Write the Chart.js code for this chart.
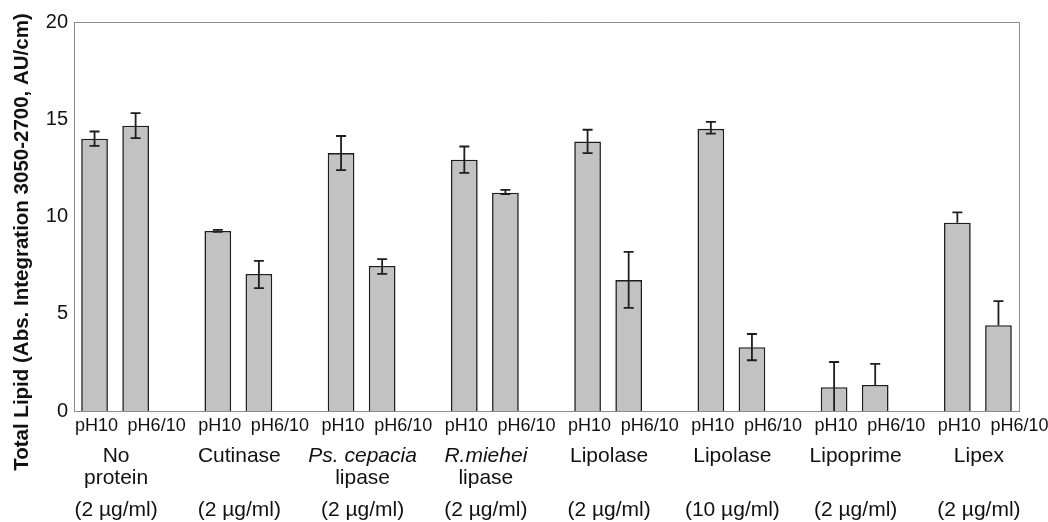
<!DOCTYPE html>
<html>
<head>
<meta charset="utf-8">
<script src="https://cdn.jsdelivr.net/npm/chart.js@4/dist/chart.umd.min.js"></script>
<style>
  html, body { margin: 0; padding: 0; background: #ffffff; }
  #wrap { width: 1048px; height: 522px; position: relative; }
</style>
</head>
<body>
<div id="wrap"><canvas id="c" width="1048" height="522"></canvas></div>
<script>
// ---- data ----
const groupLine1 = ["No", "Cutinase", "Ps. cepacia", "R.miehei", "Lipolase", "Lipolase", "Lipoprime", "Lipex"];
const groupLine2 = ["protein", "", "lipase", "lipase", "", "", "", ""];
const groupItalic = [false, false, true, true, false, false, false, false];
const doses = ["(2 µg/ml)", "(2 µg/ml)", "(2 µg/ml)", "(2 µg/ml)", "(2 µg/ml)", "(10 µg/ml)", "(2 µg/ml)", "(2 µg/ml)"];
const conditions = ["pH10", "pH6/10"];

const valuesPH10   = [14.0, 9.26, 13.26, 12.92, 13.86, 14.51, 1.22, 9.68];
const valuesPH6_10 = [14.67, 7.05, 7.46, 11.22, 6.73, 3.28, 1.34, 4.41];

const errPlusPH10    = [0.37, 0.05, 0.88, 0.68, 0.60, 0.35, 1.30, 0.53];
const errMinusPH10   = [0.37, 0.05, 0.88, 0.68, 0.60, 0.25, 1.22, 0];
const errPlusPH6_10  = [0.65, 0.67, 0.35, 0.15, 1.45, 0.68, 1.08, 1.24];
const errMinusPH6_10 = [0.64, 0.73, 0.41, 0.07, 1.43, 0.67, 0, 0];

const yTicks = [0, 5, 10, 15, 20];
const yTitle = "Total Lipid (Abs. Integration 3050-2700, AU/cm)";

// ---- build category table (two bars + spacer per group) ----
const labels = [], values = [], errP = [], errM = [], kind = [], groupOf = [];
for (let g = 0; g < groupLine1.length; g++) {
  labels.push(conditions[0]); values.push(valuesPH10[g]); errP.push(errPlusPH10[g]); errM.push(errMinusPH10[g]); kind.push(0); groupOf.push(g);
  labels.push(conditions[1]); values.push(valuesPH6_10[g]); errP.push(errPlusPH6_10[g]); errM.push(errMinusPH6_10[g]); kind.push(1); groupOf.push(g);
  if (g < groupLine1.length - 1) {
    labels.push(""); values.push(null); errP.push(null); errM.push(null); kind.push(-1); groupOf.push(g);
  }
}

const FONT = "'Liberation Sans', Arial, Helvetica, sans-serif";
const TEXT = "#111111";
const AXIS = "#8c8c8c";

const decorPlugin = {
  id: 'decor',
  afterDatasetsDraw(chart) {
    const ctx = chart.ctx;
    const xs = chart.scales.x, ys = chart.scales.y;
    ctx.save();
    ctx.strokeStyle = "#1e1e1e";
    ctx.lineWidth = 1.8;
    const cap = 5;
    for (let i = 0; i < values.length; i++) {
      if (values[i] == null) continue;
      const x = xs.getPixelForValue(i);
      const v = values[i];
      const yT = ys.getPixelForValue(v + errP[i]);
      const yB = ys.getPixelForValue(Math.max(0, v - errM[i]));
      const yV = ys.getPixelForValue(v);
      ctx.beginPath();
      ctx.moveTo(x, yT); ctx.lineTo(x, errM[i] > 0 ? yB : yV);
      ctx.moveTo(x - cap, yT); ctx.lineTo(x + cap, yT);
      if (errM[i] > 0 && v - errM[i] > 0) { ctx.moveTo(x - cap, yB); ctx.lineTo(x + cap, yB); }
      ctx.stroke();
    }
    ctx.restore();
  },
  afterDraw(chart) {
    const ctx = chart.ctx;
    const xs = chart.scales.x;
    const ca = chart.chartArea;
    ctx.save();
    ctx.strokeStyle = AXIS;
    ctx.lineWidth = 1;
    ctx.beginPath();
    ctx.moveTo(ca.left, ca.top + 0.5); ctx.lineTo(ca.right + 0.5, ca.top + 0.5); ctx.lineTo(ca.right + 0.5, ca.bottom);
    ctx.stroke();

    ctx.fillStyle = TEXT;
    ctx.textAlign = "center";
    ctx.textBaseline = "middle";
    ctx.font = "18px " + FONT;
    for (let i = 0; i < labels.length; i++) {
      if (kind[i] < 0) continue;
      const x = xs.getPixelForValue(i) + (kind[i] === 0 ? 2 : 21);
      ctx.fillText(labels[i], x, ca.bottom + 15);
    }
    for (let g = 0; g < groupLine1.length; g++) {
      const i0 = labels.findIndex((l, k) => groupOf[k] === g && kind[k] === 0);
      const cx = (xs.getPixelForValue(i0) + xs.getPixelForValue(i0 + 1)) / 2 + 1;
      ctx.font = (groupItalic[g] ? "italic " : "") + "21px " + FONT;
      ctx.fillText(groupLine1[g], cx, ca.bottom + 45);
      if (groupLine2[g]) {
        ctx.font = "21px " + FONT;
        ctx.fillText(groupLine2[g], cx, ca.bottom + 67);
      }
      ctx.font = "21px " + FONT;
      ctx.fillText(doses[g], cx, ca.bottom + 99);
    }
    ctx.translate(22, 242);
    ctx.rotate(-Math.PI / 2);
    ctx.font = "bold 20.5px " + FONT;
    ctx.fillText(yTitle, 0, 0);
    ctx.restore();
  }
};

new Chart(document.getElementById('c'), {
  type: 'bar',
  data: {
    labels: labels,
    datasets: [{
      data: values,
      backgroundColor: "#c2c2c2",
      borderColor: "#1e1e1e",
      borderWidth: 1.6,
      borderSkipped: 'bottom',
      categoryPercentage: 1.0,
      barPercentage: 0.65
    }]
  },
  options: {
    responsive: false,
    animation: false,
    devicePixelRatio: 1,
    layout: { padding: { left: 0, right: 29, top: 22, bottom: 0 } },
    plugins: { legend: { display: false }, tooltip: { enabled: false }, title: { display: false } },
    scales: {
      x: {
        grid: { display: false, drawTicks: false },
        border: { display: true, color: AXIS, width: 1 },
        ticks: { display: false },
        afterFit(scale) { scale.height = 111; }
      },
      y: {
        min: 0, max: 20,
        afterBuildTicks(scale) { scale.ticks = yTicks.map(v => ({ value: v })); },
        grid: { display: false, drawTicks: false },
        border: { display: true, color: AXIS, width: 1 },
        ticks: { color: TEXT, font: { size: 20, family: FONT }, padding: 6 },
        afterFit(scale) { scale.width = 74; }
      }
    }
  },
  plugins: [decorPlugin]
});
</script>
</body>
</html>
